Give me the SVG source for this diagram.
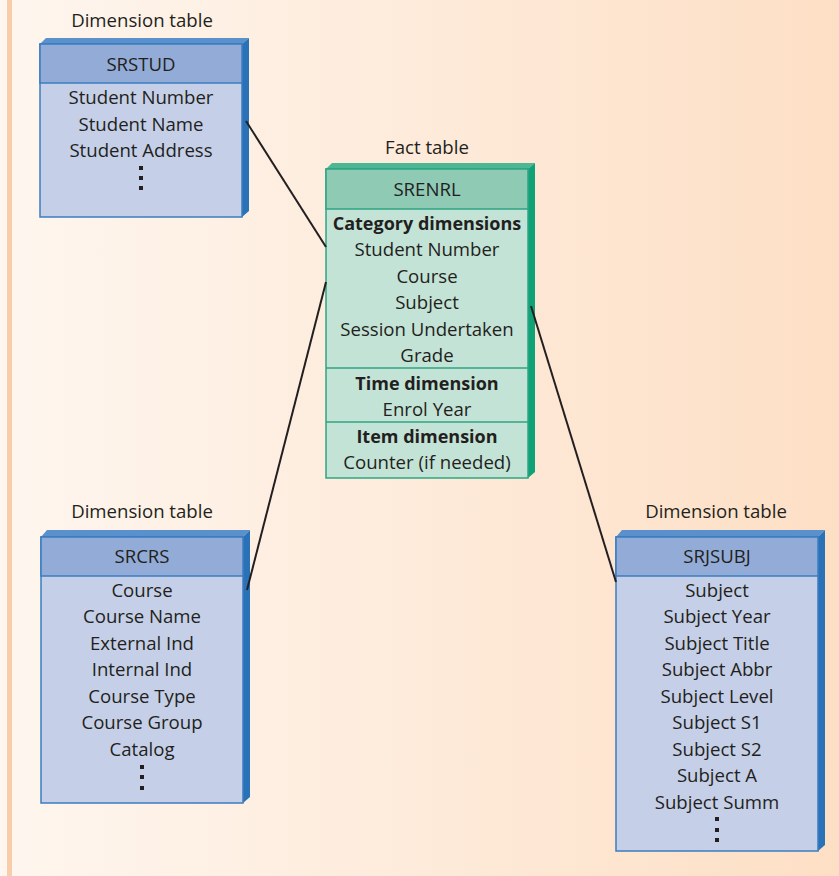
<svg xmlns="http://www.w3.org/2000/svg" width="839" height="876" viewBox="0 0 839 876">
<defs>
<linearGradient id="bg" x1="0" y1="0" x2="1" y2="0">
<stop offset="0" stop-color="#fef6ef"/>
<stop offset="1" stop-color="#fddfc5"/>
</linearGradient>
<style>
text{font-family:"Open Sans","Noto Sans","DejaVu Sans",sans-serif;font-size:18.6px;fill:#231f20;text-anchor:middle}
.b{font-weight:bold;font-size:18px}
.dh{fill:#93acd7;stroke:#3b7cc0;stroke-width:1.5}
.db{fill:#c5d0e8;stroke:#3b7cc0;stroke-width:1.5}
.ds{fill:#2a72b8}
.dt{fill:#5a90cc}
.fh{fill:#8fcab5;stroke:#2ea583;stroke-width:1.5}
.fb{fill:#c3e3d6;stroke:#2ea583;stroke-width:1.5}
.fs{fill:#0fa277}
.ft{fill:#4db794}
.dl{stroke:#2ea583;stroke-width:1.5}
.c{stroke:#231f20;stroke-width:2;fill:none}
.dot{fill:#231f20}
</style>
</defs>
<rect x="0" y="0" width="839" height="876" fill="url(#bg)"/>
<rect x="7" y="0" width="5" height="876" fill="#f9ccaa"/>

<g id="srstud">
<text x="142" y="27">Dimension table</text>
<polygon class="dt" points="40,44 46,38 249,38 242,44"/>
<polygon class="ds" points="242,44 249,38 249,211 242,217"/>
<rect class="db" x="40" y="44" width="202" height="173"/>
<rect class="dh" x="40" y="44" width="202" height="39"/>
<text x="141" y="71">SRSTUD</text>
<text x="141" y="104">Student Number</text>
<text x="141" y="131">Student Name</text>
<text x="141" y="157">Student Address</text>
<rect class="dot" x="139" y="166" width="4" height="4"/>
<rect class="dot" x="139" y="176" width="4" height="4"/>
<rect class="dot" x="139" y="186" width="4" height="4"/>
</g>

<g id="srenrl">
<text x="427" y="154">Fact table</text>
<polygon class="ft" points="326,169 332,163 535,163 528,169"/>
<polygon class="fs" points="528,169 535,163 535,472 528,478"/>
<rect class="fb" x="326" y="169" width="202" height="309"/>
<rect class="fh" x="326" y="169" width="202" height="40"/>
<line class="dl" x1="326" y1="368" x2="528" y2="368"/>
<line class="dl" x1="326" y1="422" x2="528" y2="422"/>
<text x="427" y="196">SRENRL</text>
<text class="b" x="427" y="230">Category dimensions</text>
<text x="427" y="256">Student Number</text>
<text x="427" y="283">Course</text>
<text x="427" y="309">Subject</text>
<text x="427" y="336">Session Undertaken</text>
<text x="427" y="362">Grade</text>
<text class="b" x="427" y="390">Time dimension</text>
<text x="427" y="416">Enrol Year</text>
<text class="b" x="427" y="443">Item dimension</text>
<text x="427" y="469">Counter (if needed)</text>
</g>

<g id="srcrs">
<text x="142" y="518">Dimension table</text>
<polygon class="dt" points="41,537 47,530 250,530 243,537"/>
<polygon class="ds" points="243,537 250,530 250,797 243,803"/>
<rect class="db" x="41" y="537" width="202" height="266"/>
<rect class="dh" x="41" y="537" width="202" height="39"/>
<text x="142" y="563">SRCRS</text>
<text x="142" y="597">Course</text>
<text x="142" y="623">Course Name</text>
<text x="142" y="650">External Ind</text>
<text x="142" y="676">Internal Ind</text>
<text x="142" y="703">Course Type</text>
<text x="142" y="729">Course Group</text>
<text x="142" y="756">Catalog</text>
<rect class="dot" x="140" y="765" width="4" height="4"/>
<rect class="dot" x="140" y="775" width="4" height="4"/>
<rect class="dot" x="140" y="786" width="4" height="4"/>
</g>

<g id="srjsubj">
<text x="716" y="518">Dimension table</text>
<polygon class="dt" points="616,537 622,530 825,530 818,537"/>
<polygon class="ds" points="818,537 825,530 825,845 818,851"/>
<rect class="db" x="616" y="537" width="202" height="314"/>
<rect class="dh" x="616" y="537" width="202" height="39"/>
<text x="717" y="563">SRJSUBJ</text>
<text x="717" y="597">Subject</text>
<text x="717" y="623">Subject Year</text>
<text x="717" y="650">Subject Title</text>
<text x="717" y="676">Subject Abbr</text>
<text x="717" y="703">Subject Level</text>
<text x="717" y="729">Subject S1</text>
<text x="717" y="756">Subject S2</text>
<text x="717" y="782">Subject A</text>
<text x="717" y="809">Subject Summ</text>
<rect class="dot" x="715" y="817" width="4" height="4"/>
<rect class="dot" x="715" y="828" width="4" height="4"/>
<rect class="dot" x="715" y="838" width="4" height="4"/>
</g>

<g id="connectors">
<line class="c" x1="246" y1="121" x2="326" y2="247"/>
<line class="c" x1="247" y1="590" x2="326" y2="282"/>
<line class="c" x1="531" y1="306" x2="616" y2="582"/>
</g>
</svg>
